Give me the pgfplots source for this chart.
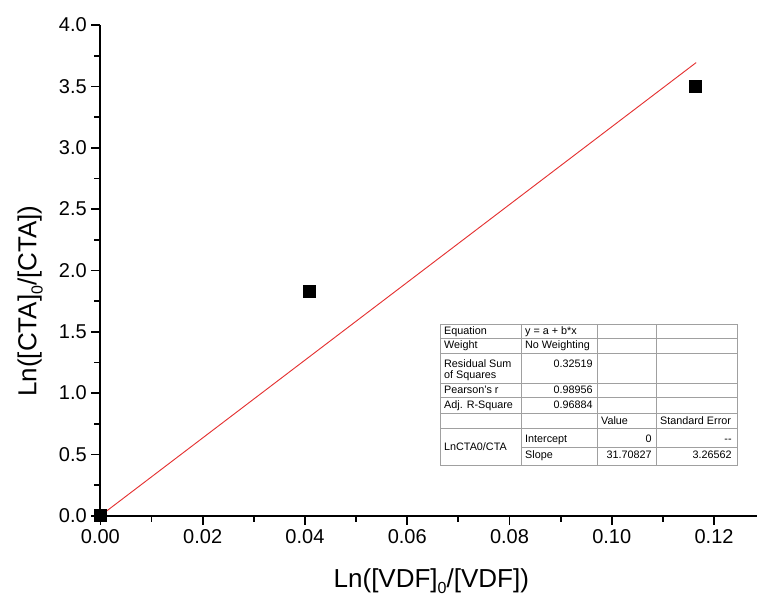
\documentclass[border=0pt]{standalone}
\usepackage{fontspec}
\setmainfont{Liberation Sans}
\usepackage{pgfplots}
\pgfplotsset{compat=1.18}
\usetikzlibrary{calc}
\definecolor{fitred}{RGB}{228,50,50}
\definecolor{tg}{RGB}{160,160,160}
\newcommand{\lsub}[1]{\raisebox{-0.45ex}{\fontsize{12}{12}\selectfont #1}}
\begin{document}
\begin{tikzpicture}
\begin{axis}[
  scale only axis, width=492.45pt, height=368pt,
  xmin=0, xmax=0.1284, ymin=0, ymax=4.0,
  axis x line=bottom, axis y line=left,
  axis line style={-, line width=1.4pt, black},
  tick align=outside,
  major tick length=6.75pt, minor tick length=4.5pt,
  every tick/.style={black, line width=1.3pt},
  xtick={0,0.02,0.04,0.06,0.08,0.10,0.12},
  ytick={0,0.5,1.0,1.5,2.0,2.5,3.0,3.5,4.0},
  minor x tick num=1, minor y tick num=1,
  /pgf/number format/assume math mode=true,
  xticklabel style={/pgf/number format/fixed, /pgf/number format/fixed zerofill, /pgf/number format/precision=2},
  yticklabel style={/pgf/number format/fixed, /pgf/number format/fixed zerofill, /pgf/number format/precision=1},
  tick label style={font=\fontsize{15}{18}\selectfont},
  every axis x label/.style={at={(axis description cs:0.504,-0.133)}, anchor=center, font=\fontsize{19.5}{23}\selectfont},
  every axis y label/.style={at={(axis description cs:-0.107,0.4375)}, rotate=90, anchor=center, font=\fontsize{19.5}{23}\selectfont},
  xlabel={Ln([VDF]\lsub{0}/[VDF])},
  ylabel={Ln([CTA]\lsub{0}/[CTA])},
  clip=false,
]
\addplot[fitred, line width=0.7pt] coordinates {(0,0) (0.1165,3.694)};
\addplot[only marks, mark=square*, mark size=4.5pt, black] coordinates {
  (0,0) (0.0408,1.831) (0.1164,3.502)};
\coordinate (O) at (axis cs:0,0);
\coordinate (T) at (axis cs:0.06639,1.5623);
\end{axis}
\begin{scope}[shift={(T)}, x=0.75pt, y=-0.75pt, font=\fontsize{8.1}{9}\selectfont, every node/.style={inner sep=0pt}]
\fill[white] (0,0) rectangle (297,141);
\draw[tg, line width=0.6pt] (0,0) rectangle (297,141);
\draw[tg, line width=0.6pt] (81,0) -- (81,141) (157,0) -- (157,141) (216,0) -- (216,141);
\draw[tg, line width=0.6pt] (0,14.5) -- (297,14.5) (0,29) -- (297,29) (0,59) -- (297,59)
  (0,73.5) -- (297,73.5) (0,89) -- (297,89) (0,104) -- (297,104) (81,123.5) -- (297,123.5);
\node[anchor=mid west] at (4,7.3) {Equation};
\node[anchor=mid west] at (85,7.3) {y = a + b*x};
\node[anchor=mid west] at (4,21.3) {Weight};
\node[anchor=mid west] at (85,21.3) {No Weighting};
\node[anchor=mid west] at (4,40) {Residual Sum};
\node[anchor=mid west] at (4,51.3) {of Squares};
\node[anchor=mid east] at (153,40) {0.32519};
\node[anchor=mid west] at (4,65.5) {Pearson's r};
\node[anchor=mid east] at (153,65.5) {0.98956};
\node[anchor=mid west] at (4,81.3) {Adj. R-Square};
\node[anchor=mid east] at (153,81.3) {0.96884};
\node[anchor=mid west] at (161,96.5) {Value};
\node[anchor=mid west] at (220,96.5) {Standard Error};
\node[anchor=mid west] at (4,123.3) {LnCTA0/CTA};
\node[anchor=mid west] at (85,115) {Intercept};
\node[anchor=mid east] at (212,115) {0};
\node[anchor=mid east] at (292,115) {{-}{-}};
\node[anchor=mid west] at (85,131) {Slope};
\node[anchor=mid east] at (212,131) {31.70827};
\node[anchor=mid east] at (292,131) {3.26562};
\end{scope}
\pgfresetboundingbox
\path[use as bounding box] ($(O)+(-75.3pt,-61.7pt)$) rectangle ($(O)+(493.2pt,386.8pt)$);
\end{tikzpicture}
\end{document}
